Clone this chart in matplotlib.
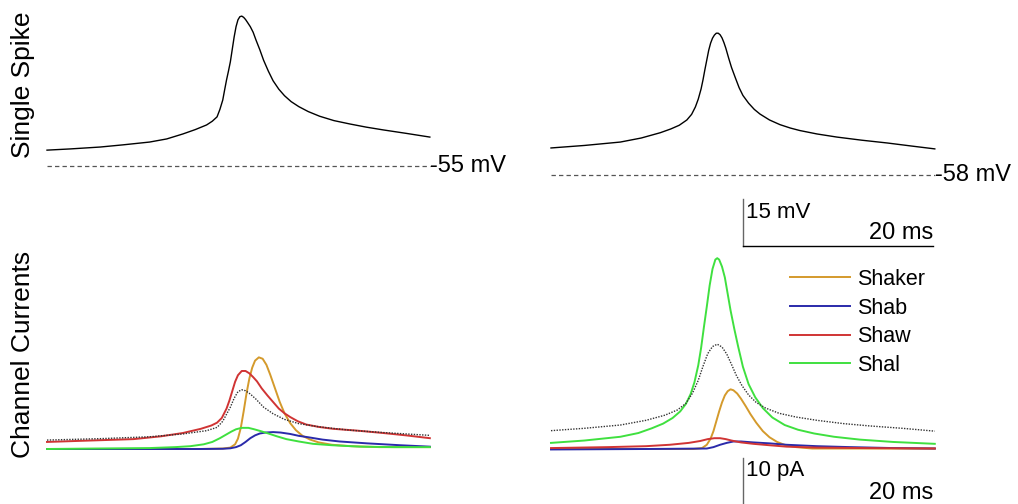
import matplotlib
matplotlib.use('Agg')
import matplotlib.pyplot as plt

plt.rcParams['font.family'] = ['Liberation Sans', 'DejaVu Sans']

# ---- single spike, membrane potential (ms, mV) ----
t_spike_l = [0.0, 2.5, 5.6, 8.0, 10.8, 12.6, 14.3, 15.6, 16.8, 17.4, 17.9, 18.2, 18.5, 18.7,
             18.9, 19.1, 19.3, 19.5, 19.7, 19.9, 20.1, 20.3, 20.5, 20.7, 20.9, 21.1, 21.4,
             21.7, 22.0, 22.4, 22.8, 23.3, 23.8, 24.4, 25.0, 25.7, 26.5, 27.5, 28.7, 30.2,
             31.9, 33.6, 35.4, 37.8, 40.3]
v_spike_l = [-49.9, -49.5, -48.9, -48.2, -47.3, -46.3, -44.7, -43.3, -41.8, -40.6, -39.2, -36.8,
             -33.8, -30.5, -27.3, -24.5, -21.5, -17.5, -13.5, -10.2, -8.0, -7.0, -6.8, -7.2,
             -7.9, -8.8, -10.2, -12.0, -14.5, -17.6, -21.0, -24.5, -27.6, -30.3, -32.4, -34.3,
             -35.9, -37.5, -39.0, -40.4, -41.5, -42.5, -43.4, -44.5, -45.7]

t_spike_r = [0.0, 3.5, 7.3, 9.5, 11.5, 12.6, 13.5, 14.3, 14.8, 15.2, 15.5, 15.8, 16.0, 16.2,
             16.4, 16.6, 16.8, 17.0, 17.2, 17.4, 17.6, 17.8, 18.0, 18.2, 18.4, 18.7, 19.0,
             19.4, 19.8, 20.2, 20.8, 21.4, 22.0, 23.0, 24.1, 25.2, 26.2, 28.0, 30.1, 32.7,
             35.4, 38.0, 40.4]
v_spike_r = [-49.2, -48.4, -47.3, -46.0, -44.3, -43.1, -41.9, -40.2, -38.4, -36.0, -33.5, -30.2,
             -27.3, -24.0, -20.9, -17.8, -15.5, -13.9, -12.9, -12.3, -12.3, -12.8, -13.8, -15.3,
             -17.1, -20.3, -23.3, -26.6, -29.8, -32.3, -34.8, -36.8, -38.3, -40.2, -41.7, -42.8,
             -43.6, -44.7, -45.7, -46.7, -47.6, -48.6, -49.5]

rest_l = -55   # mV
rest_r = -58   # mV

# ---- channel currents (ms, pA) ----
channels = ['Shaker', 'Shab', 'Shaw', 'Shal']
colors = {'Shaker': '#d49a2c', 'Shab': '#2a2aaa', 'Shaw': '#d03434', 'Shal': '#3fe03f'}

# left column
t_shaker_l = [0, 16.1, 18.5, 19.3, 19.8, 20.1, 20.4, 20.7, 21.0, 21.3, 21.6, 21.9, 22.3, 22.7,
              23.1, 23.5, 24.0, 24.5, 25.0, 25.6, 26.2, 26.9, 27.7, 28.6, 30.0, 32.0, 35.0, 40.3]
i_shaker_l = [0, 0, 0.1, 0.3, 1.0, 2.2, 4.5, 8.0, 11.8, 15.0, 17.3, 18.8, 19.5, 19.2,
              17.9, 15.8, 12.9, 10.0, 7.6, 5.5, 4.0, 2.8, 2.0, 1.4, 0.9, 0.6, 0.4, 0.4]

t_shab_l = [0, 10, 16.1, 18.5, 19.3, 19.9, 20.4, 20.9, 21.4, 21.9, 22.4, 23.0, 23.8, 24.6,
            25.6, 26.5, 27.5, 29.0, 30.8, 33.7, 37.2, 40.3]
i_shab_l = [0, 0, 0, 0.05, 0.15, 0.4, 0.8, 1.5, 2.3, 2.9, 3.3, 3.5, 3.6, 3.5,
            3.2, 2.8, 2.5, 2.0, 1.6, 1.2, 0.8, 0.5]

t_shaw_l = [0, 4.5, 9.1, 12.0, 14.3, 16.2, 17.3, 17.9, 18.4, 18.9, 19.2, 19.5, 19.8, 20.1,
            20.5, 20.9, 21.3, 21.7, 22.1, 22.6, 23.2, 23.8, 24.4, 25.0, 25.6, 26.4, 27.3,
            28.6, 30.1, 32.7, 35.4, 37.8, 40.3]
i_shaw_l = [1.5, 1.8, 2.1, 2.7, 3.4, 4.3, 5.0, 5.6, 6.6, 8.6, 10.3, 12.3, 14.3, 15.7,
            16.6, 16.6, 16.1, 15.3, 14.4, 12.9, 11.4, 10.0, 8.6, 7.6, 6.8, 5.9, 5.2,
            4.7, 4.3, 3.9, 3.4, 2.9, 2.3]

t_shal_l = [0, 5.0, 10.8, 13.5, 15.1, 16.5, 17.4, 18.2, 18.8, 19.4, 19.9, 20.5, 21.2, 21.8,
            22.5, 23.3, 24.2, 25.2, 26.5, 28.0, 30.0, 33.0, 36.5, 40.3]
i_shal_l = [0, 0.1, 0.2, 0.4, 0.6, 1.0, 1.5, 2.3, 3.0, 3.7, 4.2, 4.5, 4.5, 4.2,
            3.8, 3.3, 2.7, 2.1, 1.6, 1.1, 0.8, 0.5, 0.4, 0.4]

t_vm_l = [0, 5.6, 10.8, 14.3, 16.8, 17.9, 18.5, 18.9, 19.3, 19.7, 20.1, 20.5, 20.9, 21.4,
          22.0, 22.8, 23.8, 25.0, 26.5, 28.7, 31.9, 35.4, 40.3]
i_vm_l = [1.9, 2.2, 2.6, 3.2, 3.9, 4.6, 5.9, 7.4, 8.9, 10.8, 12.2, 12.6, 12.4, 11.7,
          10.6, 8.9, 7.5, 6.3, 5.4, 4.7, 4.0, 3.5, 2.9]

# right column
t_shaker_r = [0, 15.0, 15.9, 16.4, 16.8, 17.1, 17.4, 17.7, 18.0, 18.3, 18.6, 18.9, 19.2,
              19.6, 20.0, 20.5, 21.0, 21.6, 22.3, 23.0, 23.8, 24.7, 25.8, 27.5, 40.4]
i_shaker_r = [0, 0, 0.2, 0.9, 2.2, 3.8, 5.9, 8.0, 9.9, 11.4, 12.3, 12.7, 12.5,
              11.8, 10.7, 9.1, 7.4, 5.6, 3.8, 2.5, 1.5, 0.8, 0.4, 0.1, 0.1]

t_shab_r = [0, 10, 16.4, 17.1, 17.8, 18.5, 19.2, 20.0, 21.3, 23.0, 24.8, 28.0, 31.5, 36.0, 40.4]
i_shab_r = [-0.1, 0, 0.1, 0.4, 0.9, 1.3, 1.6, 1.6, 1.4, 1.2, 0.9, 0.6, 0.4, 0.2, 0.1]

t_shaw_r = [0, 6, 10, 12.5, 14.5, 15.7, 16.5, 17.2, 17.8, 18.4, 19.0, 20.0, 21.3, 23.0,
            24.8, 28.0, 33.0, 40.4]
i_shaw_r = [0.2, 0.4, 0.6, 0.9, 1.3, 1.7, 2.1, 2.3, 2.3, 2.1, 1.8, 1.4, 1.1, 0.8,
            0.5, 0.3, 0.2, 0.1]

t_shal_r = [0, 3.5, 7.3, 9.2, 10.6, 11.8, 12.8, 13.6, 14.2, 14.7, 15.1, 15.5, 15.8, 16.1,
            16.4, 16.7, 17.0, 17.3, 17.5, 17.7, 18.0, 18.3, 18.6, 18.9, 19.3, 19.7, 20.2,
            20.8, 21.5, 22.3, 23.3, 24.6, 26.0, 27.7, 29.8, 32.5, 36.0, 40.4]
i_shal_r = [1.3, 1.8, 2.6, 3.4, 4.4, 5.4, 6.6, 8.0, 9.6, 11.7, 14.2, 17.8, 21.5, 26.0,
            30.3, 34.8, 38.3, 40.3, 40.6, 40.3, 38.8, 36.5, 33.0, 29.5, 25.5, 21.8, 17.5,
            13.8, 11.0, 8.7, 6.7, 5.1, 4.1, 3.3, 2.6, 2.0, 1.5, 1.1]

t_vm_r = [0, 3.5, 7.3, 10.0, 12.0, 13.3, 14.2, 14.9, 15.5, 16.0, 16.5, 17.0, 17.5, 18.0,
          18.5, 19.0, 19.5, 20.1, 20.8, 21.6, 22.6, 24.0, 25.8, 28.0, 30.8, 33.6, 37.0, 40.4]
i_vm_r = [3.9, 4.4, 5.1, 6.1, 7.2, 8.3, 9.7, 11.9, 14.6, 17.6, 20.3, 21.8, 22.3, 21.7,
          20.2, 18.0, 15.7, 13.5, 11.5, 9.9, 8.7, 7.6, 6.8, 6.1, 5.4, 4.9, 4.4, 3.8]

# scale bars
bar_ms = 20
bar_mv = 15
bar_pa = 10

# ---- layout (pixels) ----
W, H = 1018, 504
PX_MS, PX_MV, PX_PA = 9.5, 3.11, 4.7

fig = plt.figure(figsize=(W / 100, H / 100), dpi=100)


def add_panel(left, right, top, bottom, x0_px, yref_px, yref, px_per_unit):
    ax = fig.add_axes([left / W, 1 - bottom / H, (right - left) / W, (bottom - top) / H])
    ax.set_xlim((left - x0_px) / PX_MS, (right - x0_px) / PX_MS)
    ax.set_ylim(yref - (bottom - yref_px) / px_per_unit, yref + (yref_px - top) / px_per_unit)
    ax.axis('off')
    return ax


ax_vl = add_panel(0, 509, 0, 252, 47, 166, -55, PX_MV)
ax_vr = add_panel(509, 1018, 0, 252, 551, 166, -55, PX_MV)
ax_il = add_panel(0, 509, 252, 504, 47, 449, 0, PX_PA)
ax_ir = add_panel(509, 1018, 252, 504, 551, 449, 0, PX_PA)

# spikes + resting potential
dash = dict(color='#555555', lw=0.9, linestyle=(0, (3.5, 2.5)))
for ax, t, v, rest in [(ax_vl, t_spike_l, v_spike_l, rest_l),
                       (ax_vr, t_spike_r, v_spike_r, rest_r)]:
    ax.plot(t, v, color='black', lw=1.0)
    ax.plot([t[0], t[-1]], [rest, rest], **dash)
    ax.text(t[-1], rest, f'{rest} mV', fontsize=17, ha='left', va='center')

# voltage scale bar
sb_t, sb_v = 20.2, -80.6
ax_vr.plot([sb_t, sb_t], [sb_v, sb_v + bar_mv], color='#666666', lw=1.0)
ax_vr.plot([sb_t, sb_t + bar_ms], [sb_v, sb_v], color='black', lw=1.0)
ax_vr.text(sb_t + 0.3, -69.8, f'{bar_mv} mV', fontsize=16, ha='left', va='center')
ax_vr.text(sb_t + bar_ms, -76.5, f'{bar_ms} ms', fontsize=17, ha='right', va='center')

# currents
left_sets = {'Shaker': (t_shaker_l, i_shaker_l), 'Shab': (t_shab_l, i_shab_l),
             'Shaw': (t_shaw_l, i_shaw_l), 'Shal': (t_shal_l, i_shal_l)}
right_sets = {'Shaker': (t_shaker_r, i_shaker_r), 'Shab': (t_shab_r, i_shab_r),
              'Shaw': (t_shaw_r, i_shaw_r), 'Shal': (t_shal_r, i_shal_r)}

for ax, sets, vm in [(ax_il, left_sets, (t_vm_l, i_vm_l)), (ax_ir, right_sets, (t_vm_r, i_vm_r))]:
    for name in channels:
        t, i = sets[name]
        ax.plot(t, i, color=colors[name], lw=1.4, label=name)
    ax.plot(vm[0], vm[1], color='#333333', lw=1.0, linestyle=(0, (1, 1)))

# current scale bar (runs off the bottom edge)
sb_i = -1.9
ax_ir.plot([sb_t, sb_t], [sb_i, sb_i - bar_pa], color='#666666', lw=1.0, clip_on=False)
ax_ir.plot([sb_t, sb_t + bar_ms], [sb_i - bar_pa, sb_i - bar_pa], color='black', lw=1.0)
ax_ir.text(sb_t + 0.3, -4.5, f'{bar_pa} pA', fontsize=16, ha='left', va='center')
ax_ir.text(sb_t + bar_ms, -9.4, f'{bar_ms} ms', fontsize=17, ha='right', va='center')

ax_ir.legend(loc='upper left', bbox_to_anchor=(790 / W, 1 - 269 / H),
             bbox_transform=fig.transFigure, frameon=False, fontsize=15.5,
             handlelength=2.8, handletextpad=0.3, labelspacing=0.35,
             borderpad=0, borderaxespad=0)

fig.text(23 / W, 1 - 85 / H, 'Single Spike', rotation=90, fontsize=19,
         ha='center', va='center')
fig.text(23 / W, 1 - 354 / H, 'Channel Currents', rotation=90, fontsize=19,
         ha='center', va='center')

fig.savefig('out.png', dpi=100, facecolor='white')
